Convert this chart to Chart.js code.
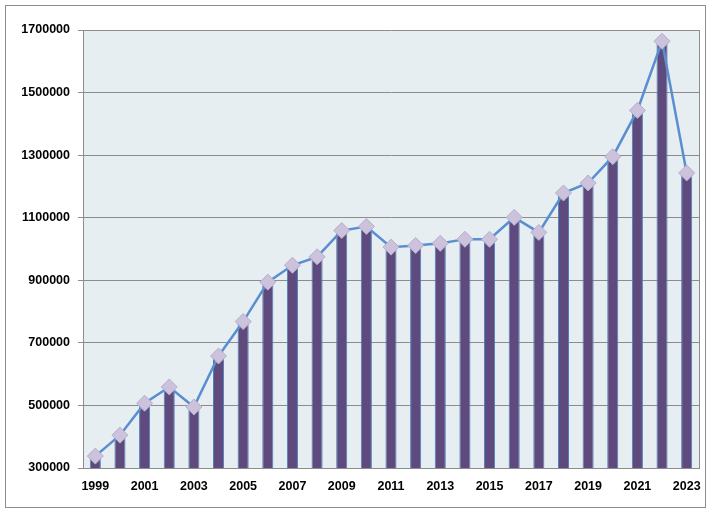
<!DOCTYPE html>
<html>
<head>
<meta charset="utf-8">
<script src="https://cdn.jsdelivr.net/npm/chart.js@4"></script>
<style>
html,body{margin:0;padding:0;background:#fff;}
#wrap{width:713px;height:516px;position:relative;}
</style>
</head>
<body>
<div id="wrap"><canvas id="c" width="713" height="516"></canvas></div>
<script>
const years = ['1999','2000','2001','2002','2003','2004','2005','2006','2007','2008','2009','2010','2011','2012','2013','2014','2015','2016','2017','2018','2019','2020','2021','2022','2023'];
const values = [338000,405000,507000,559000,495000,658000,768000,894000,948000,975000,1059000,1072000,1006000,1011000,1018000,1031000,1031000,1101000,1053000,1179000,1211000,1295000,1443000,1664000,1243000];
const yTicks = [300000,500000,700000,900000,1100000,1300000,1500000,1700000];

const bgPlugin = {
  id:'bg',
  beforeDraw(chart){
    const ctx = chart.ctx, a = chart.chartArea;
    ctx.save();
    ctx.fillStyle = '#fff';
    ctx.fillRect(0,0,chart.width,chart.height);
    ctx.strokeStyle = '#8c8c8c';
    ctx.lineWidth = 1;
    ctx.strokeRect(5.5,5.5,700,502);
    ctx.fillStyle = '#E6EEF2';
    ctx.fillRect(a.left,a.top,a.right-a.left,a.bottom-a.top);
    ctx.strokeStyle = '#8c8c8c';
    ctx.beginPath();
    ctx.moveTo(a.right+0.5,a.top); ctx.lineTo(a.right+0.5,a.bottom);
    ctx.stroke();
    ctx.restore();
  }
};

new Chart(document.getElementById('c'), {
  data: {
    labels: years,
    datasets: [
      {
        type:'line',
        data: values,
        borderColor:'#5A8ED0',
        borderWidth:2.5,
        pointStyle:'rectRot',
        pointRadius:8,
        pointBackgroundColor:'#CCC2DB',
        pointBorderColor:'#B8ADCF',
        pointBorderWidth:1,
        tension:0,
        order:0
      },
      {
        type:'bar',
        data: values,
        backgroundColor:'#5E4A7C',
        borderColor:'#4F81BD',
        borderWidth:1,
        categoryPercentage:1,
        barPercentage:0.45,
        order:1
      }
    ]
  },
  options: {
    responsive:false,
    animation:false,
    events:[],
    layout:{padding:{top:30,right:14,left:0,bottom:0}},
    plugins:{legend:{display:false},tooltip:{enabled:false}},
    scales:{
      x:{
        grid:{display:false, drawTicks:false},
        border:{display:true,color:'#8c8c8c',width:1},
        ticks:{
          autoSkip:false, maxRotation:0, padding:11,
          color:'#000',
          font:{family:'"Liberation Sans", Arial, sans-serif',size:12.5,weight:'bold'},
          callback:function(v,i){ return i%2===0 ? years[i] : ''; }
        },
        afterFit(s){ s.height = 48; }
      },
      y:{
        min:300000,max:1700000,
        afterBuildTicks(s){ s.ticks = yTicks.map(v=>({value:v})); },
        grid:{color:'#8c8c8c',lineWidth:1,tickLength:5,drawTicks:true},
        border:{display:true,color:'#8c8c8c',width:1},
        ticks:{
          padding:8,color:'#000',
          font:{family:'"Liberation Sans", Arial, sans-serif',size:12.5,weight:'bold'},
          callback:v=>String(v)
        },
        afterFit(s){ s.width = 83; }
      }
    }
  },
  plugins:[bgPlugin]
});
</script>
</body>
</html>
